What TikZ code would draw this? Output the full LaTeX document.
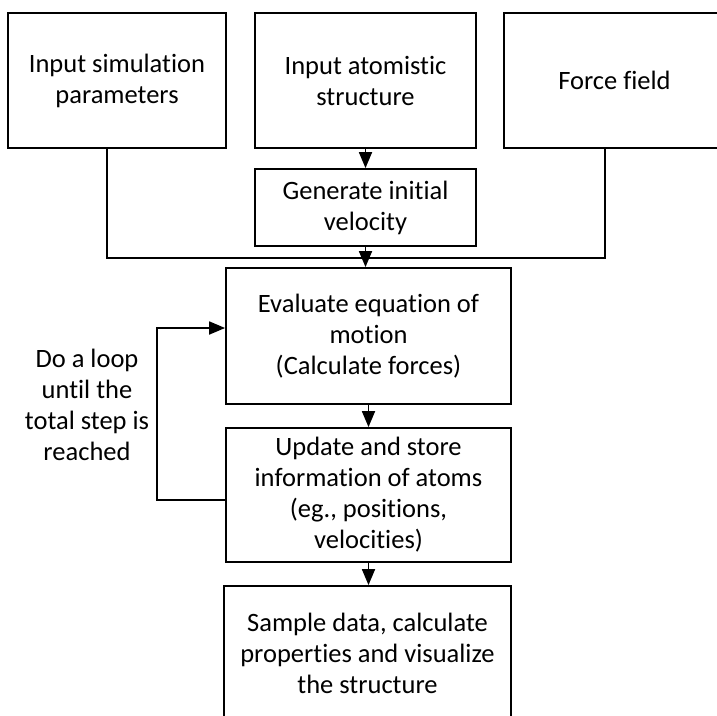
\documentclass[tikz,border=0pt]{standalone}
\usepackage{fontspec}
\setmainfont[Ligatures=NoCommon]{Carlito}
\usetikzlibrary{arrows.meta}
\tikzset{
  box/.style={draw, line width=1.8pt, align=center, inner sep=0pt,
    font=\fontsize{26.5}{31}\selectfont},
  flow/.style={line width=1.8pt, -{Triangle[length=16pt,width=13pt]}},
  wire/.style={line width=1.8pt}
}
\begin{document}
\begin{tikzpicture}[x=1pt,y=-1pt]
  \fill[white] (0,0) rectangle (717,715);
  \clip (0,0) rectangle (717,715);

  % inputs
  \node[box, minimum width=218pt, minimum height=135pt] (sim) at (117,80.5)
    {Input simulation\\parameters};
  \node[box, minimum width=221pt, minimum height=135pt] (struct) at (365.5,80.5)
    {Input atomistic\\structure};
  \node[box, minimum width=221pt, minimum height=135pt] (ff) at (614.5,80.5)
    {Force field};
  \node[box, minimum width=221pt, minimum height=77pt] (gen) at (365.5,207.5)
    {Generate initial\\velocity};

  % main loop
  \node[box, minimum width=285pt, minimum height=136pt] (eval) at (368.5,336)
    {Evaluate equation of\\motion\\(Calculate forces)};
  \node[box, minimum width=285pt, minimum height=134pt] (upd) at (368.5,495)
    {Update and store\\information of atoms\\(eg., positions,\\velocities)};
  \node[box, minimum width=287pt, minimum height=134pt] (samp) at (367.5,653)
    {Sample data, calculate\\properties and visualize\\the structure};

  % joining line
  \coordinate (jl) at (107,258);
  \coordinate (jr) at (605,258);
  \draw[wire] (sim.south -| jl) -- (jl) -- (jr) -- (ff.south -| jr);

  \draw[flow] (struct.south) -- (struct.south |- gen.north);
  \draw[flow] (gen.south) -- (gen.south |- eval.north);
  \draw[flow] (eval.south) -- (upd.north);
  \draw[flow] (upd.south) -- (upd.south |- samp.north);

  % loop back
  \coordinate (lp) at (157,500);
  \draw[flow] (upd.west |- lp) -- (lp) |- ([yshift=8pt]eval.west);
  \node[align=center, font=\fontsize{26.5}{31}\selectfont] (looptxt) at (87,405)
    {Do a loop\\until the\\total step is\\reached};
\end{tikzpicture}
\end{document}
